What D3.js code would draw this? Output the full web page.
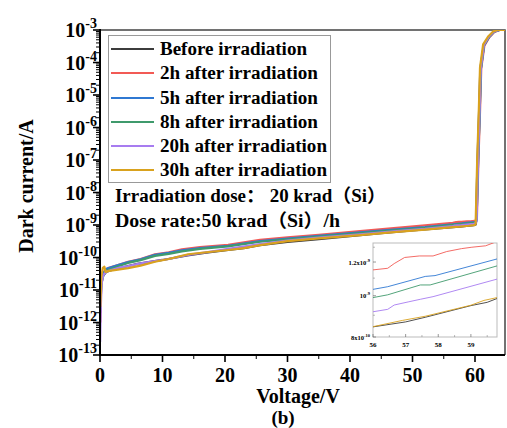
<!DOCTYPE html>
<html><head><meta charset="utf-8">
<script src="https://cdn.jsdelivr.net/npm/d3@7"></script>
<style>body{margin:0;background:#fff}svg{display:block}</style>
</head><body>
<script>
const seriesNames = ["Before irradiation","2h after irradiation","5h after irradiation","8h after irradiation","20h after irradiation","30h after irradiation"];
const seriesColors = ["#3c3c3c","#f25a55","#2f78d2","#3f9a6c","#a77cf0","#d9a21e"];

const before = [[0.05,2e-12],[0.2,1.5e-11],[0.5,2.8e-11],[1,3.6e-11],[2,4.2e-11],[4,5.2e-11],[6,6.4e-11],[8.5,7.6e-11],[10,8.4e-11],[14,1.15e-10],[17,1.4e-10],[20.5,1.72e-10],[23,1.95e-10],[25.6,2.4e-10],[30,3.0e-10],[35,3.7e-10],[40,4.5e-10],[45,5.6e-10],[50,6.8e-10],[55,8.2e-10],[56,0.845e-9],[57,0.868e-9],[57.6,0.89e-9],[59,0.948e-9],[59.5,0.965e-9],[59.8,0.985e-9],[60.05,1.0e-9],[60.15,1.1e-9],[60.4,1e-7],[60.65,3e-6],[60.85,6.5e-5],[61.4,3.4e-4],[62.2,6.1e-4],[63,8.8e-4],[63.8,1e-3],[64.8,1e-3]];
const h2 = [[0.05,1e-12],[0.2,1.8e-11],[0.5,3.5e-11],[1.3,4.7e-11],[3,6.0e-11],[4.5,7.4e-11],[6.5,9.0e-11],[8.8,1.26e-10],[11,1.45e-10],[13.1,1.79e-10],[16,2.1e-10],[20.5,2.45e-10],[25.6,3.5e-10],[30,4.2e-10],[35,5.0e-10],[41.6,6.5e-10],[47,8.0e-10],[52,9.7e-10],[56,1.15e-9],[56.45,1.16e-9],[56.65,1.19e-9],[56.97,1.23e-9],[57.42,1.24e-9],[57.84,1.24e-9],[58.26,1.27e-9],[58.71,1.29e-9],[59.03,1.30e-9],[59.45,1.31e-9],[59.68,1.33e-9],[60.1,1.38e-9],[60.3,1.5e-9],[60.55,1e-7],[60.8,3e-6],[61.0,6.5e-5],[61.5,3.3e-4],[62.3,6.0e-4],[63.1,8.7e-4],[64,1e-3],[64.8,1e-3]];
const h5 = [[0.05,3e-12],[0.2,2e-11],[0.5,3.2e-11],[1,4.5e-11],[3,6.0e-11],[4.5,7.2e-11],[6.5,8.8e-11],[8.8,1.2e-10],[11,1.38e-10],[13.1,1.65e-10],[16,1.95e-10],[20.5,2.3e-10],[25.6,3.2e-10],[30,3.8e-10],[35,4.6e-10],[41.6,5.9e-10],[47,7.2e-10],[52,8.6e-10],[56,1.035e-9],[56.45,1.05e-9],[57.6,1.11e-9],[57.9,1.115e-9],[59.8,1.22e-9],[60.1,1.26e-9],[60.25,1.4e-9],[60.5,1e-7],[60.75,3e-6],[60.95,6.6e-5],[61.45,3.4e-4],[62.25,6.1e-4],[63.05,8.8e-4],[63.9,1e-3],[64.8,1e-3]];
const h8 = [[0.05,2.5e-12],[0.2,1.6e-11],[0.5,2.6e-11],[1,4e-11],[3,5.5e-11],[4.5,6.8e-11],[6.5,8.3e-11],[8.8,1.12e-10],[11,1.3e-10],[13.1,1.55e-10],[16,1.85e-10],[20.5,2.2e-10],[25.6,3.05e-10],[30,3.6e-10],[35,4.4e-10],[41.6,5.6e-10],[47,6.9e-10],[52,8.2e-10],[56,0.99e-9],[56.45,1.005e-9],[57.45,1.06e-9],[57.75,1.06e-9],[59.8,1.175e-9],[60.1,1.21e-9],[60.25,1.35e-9],[60.5,1e-7],[60.75,3e-6],[60.95,6.6e-5],[61.45,3.4e-4],[62.25,6.1e-4],[63.05,8.8e-4],[63.9,1e-3],[64.8,1e-3]];
const h20 = [[0.02,2.5e-13],[0.1,2e-12],[0.25,1.5e-11],[0.5,2.8e-11],[1,3.7e-11],[3,4.8e-11],[4.5,5.4e-11],[6.5,6.6e-11],[8.8,7.8e-11],[11,9.0e-11],[12.5,1.05e-10],[14.1,1.2e-10],[17,1.45e-10],[20.5,1.85e-10],[25.6,2.6e-10],[30,3.3e-10],[35,4.1e-10],[41.6,5.2e-10],[47,6.4e-10],[52,7.6e-10],[56,0.917e-9],[56.45,0.929e-9],[56.65,0.951e-9],[57.1,0.968e-9],[57.45,0.981e-9],[57.84,0.995e-9],[59.8,1.094e-9],[60.1,1.13e-9],[60.25,1.3e-9],[60.48,1e-7],[60.72,3e-6],[60.92,6.7e-5],[61.42,3.5e-4],[62.2,6.2e-4],[63,8.9e-4],[63.8,1e-3],[64.8,1e-3]];
const h30 = [[0.05,3e-12],[0.2,2.5e-11],[0.45,4.8e-11],[0.7,5.2e-11],[0.9,3.6e-11],[1.5,3.9e-11],[4.5,4.7e-11],[6.5,5.6e-11],[8.8,7.4e-11],[11,9e-11],[14.1,1.26e-10],[17,1.45e-10],[20.5,1.7e-10],[23,1.95e-10],[25.6,2.4e-10],[30,3.2e-10],[35,3.9e-10],[41.6,4.9e-10],[47,6.0e-10],[52,7.2e-10],[56,0.846e-9],[56.9,0.875e-9],[57.6,0.895e-9],[59,0.95e-9],[59.4,0.975e-9],[59.8,0.99e-9],[60.0,1.0e-9],[60.1,1.1e-9],[60.35,1e-7],[60.6,3e-6],[60.8,7e-5],[61.3,3.6e-4],[62.1,6.3e-4],[62.9,9e-4],[63.6,1e-3],[64.8,1e-3]];
const allSeries = [before, h2, h5, h8, h20, h30];

const xTicks = [0,10,20,30,40,50,60];
const xMinor = [5,15,25,35,45,55,65];
const yExps = [-3,-4,-5,-6,-7,-8,-9,-10,-11,-12,-13];
const insetXTicks = [56,57,58,59];
const insetYTicks = [8e-10,1e-9,1.2e-9];
const insetYLabels = [["8x10","-10"],["10","-9"],["1.2x10","-9"]];

const W=507,H=428;
const serif = "'Times New Roman','Liberation Serif','Noto Serif',serif";
const cjk = "'Times New Roman','Liberation Serif','Noto Sans CJK SC',serif";
const svg = d3.select("body").append("svg").attr("width",W).attr("height",H);

const x = d3.scaleLinear().domain([0,64.8]).range([100,505]);
const y = d3.scaleLog().domain([1e-13,1e-3]).range([355,30]);

svg.append("defs").append("clipPath").attr("id","clipMain").append("rect")
  .attr("x",100).attr("y",30).attr("width",405).attr("height",325);

// frame top/right
svg.append("path").attr("d",`M100,30H505V355`).attr("fill","none").attr("stroke","#444").attr("stroke-width",1.5);

// curves
const line = d3.line().x(d=>x(d[0])).y(d=>y(d[1]));
const gC = svg.append("g").attr("clip-path","url(#clipMain)");
allSeries.forEach((s,i)=>{
  gC.append("path").attr("d",line(s)).attr("fill","none").attr("stroke",seriesColors[i]).attr("stroke-width",2.2).attr("stroke-linejoin","round");
});

// left axis
const gy = svg.append("g");
gy.append("line").attr("x1",100).attr("x2",100).attr("y1",29).attr("y2",356).attr("stroke","#000").attr("stroke-width",2);
yExps.forEach(e=>{
  const v = Math.pow(10,e);
  gy.append("line").attr("x1",93).attr("x2",100).attr("y1",y(v)).attr("y2",y(v)).attr("stroke","#000").attr("stroke-width",1.6);
  if(e>-13){
    for(let k=2;k<10;k++){
      const mv=k*Math.pow(10,e-1);
      gy.append("line").attr("x1",96).attr("x2",100).attr("y1",y(mv)).attr("y2",y(mv)).attr("stroke","#000").attr("stroke-width",1);
    }
  }
  const t = gy.append("text").attr("x",97).attr("y",y(v)+7).attr("text-anchor","end")
    .attr("font-family",serif).attr("font-weight","bold").attr("font-size",20);
  t.append("tspan").text("10");
  t.append("tspan").attr("dy",-9).attr("font-size",14).text(String(e));
});

// bottom axis
const gx = svg.append("g");
gx.append("line").attr("x1",99).attr("x2",505).attr("y1",355).attr("y2",355).attr("stroke","#000").attr("stroke-width",2);
xTicks.forEach(v=>{
  gx.append("line").attr("x1",x(v)).attr("x2",x(v)).attr("y1",355).attr("y2",362).attr("stroke","#000").attr("stroke-width",1.6);
  gx.append("text").attr("x",x(v)).attr("y",382).attr("text-anchor","middle")
    .attr("font-family",serif).attr("font-weight","bold").attr("font-size",20).text(v);
});
xMinor.forEach(v=>{
  if(v<=64.8) gx.append("line").attr("x1",x(v)).attr("x2",x(v)).attr("y1",355).attr("y2",359).attr("stroke","#000").attr("stroke-width",1);
});

// axis titles
svg.append("text").attr("x",298).attr("y",403).attr("text-anchor","middle")
  .attr("font-family",serif).attr("font-weight","bold").attr("font-size",20).text("Voltage/V");
svg.append("text").attr("x",283).attr("y",424).attr("text-anchor","middle")
  .attr("font-family",serif).attr("font-weight","bold").attr("font-size",19).text("(b)");
svg.append("text").attr("transform","translate(33,186) rotate(-90)").attr("text-anchor","middle")
  .attr("font-family",serif).attr("font-weight","bold").attr("font-size",20).text("Dark current/A");

// legend
const gL = svg.append("g");
gL.append("rect").attr("x",108.5).attr("y",35.5).attr("width",222).attr("height",147).attr("fill","#fff").attr("stroke","#999").attr("stroke-width",1);
const legY = [49,73,98,122,146,170];
const legW = [147,158,158,158,167,167];
seriesNames.forEach((n,i)=>{
  gL.append("line").attr("x1",111).attr("x2",154).attr("y1",legY[i]).attr("y2",legY[i]).attr("stroke",seriesColors[i]).attr("stroke-width",2);
  gL.append("text").attr("x",160).attr("y",legY[i]+6).attr("font-family",serif).attr("font-weight","bold").attr("font-size",18.5)
    .attr("textLength",legW[i]).attr("lengthAdjust","spacingAndGlyphs").text(n);
});

// annotations
svg.append("text").attr("x",115).attr("y",202).attr("font-family",cjk).attr("font-weight","bold").attr("font-size",18.5)
  .attr("textLength",271).attr("lengthAdjust","spacingAndGlyphs").text("Irradiation dose： 20 krad（Si）");
svg.append("text").attr("x",115).attr("y",227).attr("font-family",cjk).attr("font-weight","bold").attr("font-size",18.5)
  .attr("textLength",225).attr("lengthAdjust","spacingAndGlyphs").text("Dose rate:50 krad（Si）/h");

// inset
const ix = d3.scaleLinear().domain([56,59.8]).range([373,497]);
const iy = d3.scaleLog().domain([8e-10,1.33e-9]).range([337,243]);
svg.append("defs").append("clipPath").attr("id","clipInset").append("rect")
  .attr("x",373).attr("y",243).attr("width",124).attr("height",94);
const gI = svg.append("g");
gI.append("rect").attr("x",373).attr("y",243).attr("width",124).attr("height",94).attr("fill","#fff").attr("stroke","#bbb").attr("stroke-width",1);
const iline = d3.line().x(d=>ix(d[0])).y(d=>iy(d[1]));
const gIC = gI.append("g").attr("clip-path","url(#clipInset)");
allSeries.forEach((s,i)=>{
  gIC.append("path").attr("d",iline(s)).attr("fill","none").attr("stroke",seriesColors[i]).attr("stroke-width",0.9);
});
insetXTicks.forEach(v=>{
  gI.append("line").attr("x1",ix(v)).attr("x2",ix(v)).attr("y1",337).attr("y2",334).attr("stroke","#555").attr("stroke-width",0.6);
  gI.append("text").attr("x",ix(v)).attr("y",347).attr("text-anchor","middle").attr("font-family",serif).attr("font-weight","bold").attr("font-size",7).text(v);
});
[56.5,57.5,58.5,59.5].forEach(v=>{
  gI.append("line").attr("x1",ix(v)).attr("x2",ix(v)).attr("y1",337).attr("y2",335).attr("stroke","#777").attr("stroke-width",0.5);
});
insetYTicks.forEach((v,i)=>{
  gI.append("line").attr("x1",373).attr("x2",376).attr("y1",iy(v)).attr("y2",iy(v)).attr("stroke","#555").attr("stroke-width",0.6);
  const t = gI.append("text").attr("x",370).attr("y",iy(v)+2.5).attr("text-anchor","end").attr("font-family",serif).attr("font-weight","bold").attr("font-size",6.5);
  t.append("tspan").text(insetYLabels[i][0]);
  t.append("tspan").attr("dy",-3).attr("font-size",4.5).text(insetYLabels[i][1]);
});
[9e-10,1.1e-9,1.3e-9].forEach(v=>{
  gI.append("line").attr("x1",373).attr("x2",375).attr("y1",iy(v)).attr("y2",iy(v)).attr("stroke","#777").attr("stroke-width",0.5);
});
</script>
</body></html>
